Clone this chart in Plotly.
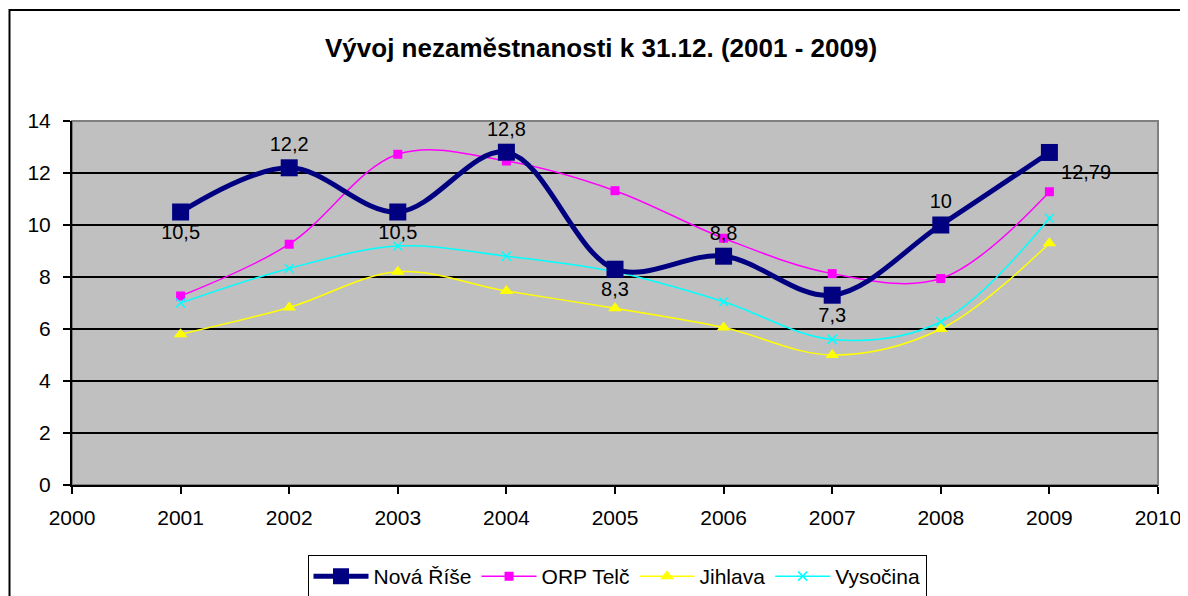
import plotly.graph_objects as go

years = [2001, 2002, 2003, 2004, 2005, 2006, 2007, 2008, 2009]
nova_rise = [10.5, 12.2, 10.5, 12.8, 8.3, 8.8, 7.3, 10, 12.79]
nova_rise_labels = ["10,5", "12,2", "10,5", "12,8", "8,3", "8,8", "7,3", "10", "12,79"]
orp_telc = [7.27, 9.26, 12.72, 12.46, 11.32, 9.49, 8.13, 7.94, 11.28]
jihlava = [5.8, 6.83, 8.2, 7.46, 6.8, 6.06, 5.0, 6.0, 9.3]
vysocina = [7.0, 8.33, 9.19, 8.8, 8.2, 7.05, 5.6, 6.28, 10.26]

FONT = "Liberation Sans, Arial, sans-serif"

# page body has an 8px margin, so the figure starts at (8, 8) on screen
OFF = 8
W, H = 1188, 596
# plot area (figure pixels)
L, R, T, B = 72 - OFF, 1158 - OFF, 121 - OFF, 485 - OFF


def px_x(p):
    # screen pixel -> paper x
    return (p - OFF - L) / (R - L)


def px_y(p):
    # screen pixel -> paper y
    return (B - (p - OFF)) / (B - T)


fig = go.Figure()

fig.add_trace(go.Scatter(
    x=years, y=orp_telc, name="ORP Telč", mode="lines+markers",
    line=dict(color="#FF00FF", width=1.5, shape="spline"),
    marker=dict(symbol="square", size=9, color="#FF00FF"),
    legendrank=2,
))
fig.add_trace(go.Scatter(
    x=years, y=jihlava, name="Jihlava", mode="lines+markers",
    line=dict(color="#FFFF00", width=1.5, shape="spline"),
    marker=dict(symbol="triangle-up", size=12, color="#FFFF00"),
    legendrank=3,
))
fig.add_trace(go.Scatter(
    x=years, y=vysocina, name="Vysočina", mode="lines+markers",
    line=dict(color="#00FFFF", width=1.5, shape="spline"),
    marker=dict(symbol="x-thin", size=9, line=dict(color="#00FFFF", width=1.5)),
    legendrank=4,
))
fig.add_trace(go.Scatter(
    x=years, y=nova_rise, name="Nová Říše", mode="lines+markers+text",
    line=dict(color="#000080", width=5, shape="spline"),
    marker=dict(symbol="square", size=17, color="#000080"),
    text=nova_rise_labels,
    textposition=["bottom center", "top center", "bottom center", "top center", "bottom center",
                  "top center", "bottom center", "top center", "bottom right"],
    textfont=dict(family=FONT, size=20, color="black"),
    cliponaxis=False,
    legendrank=1,
))

fig.update_layout(
    width=W, height=H,
    margin=dict(l=L, r=W - R, t=T, b=H - B, autoexpand=False),
    paper_bgcolor="white",
    plot_bgcolor="#C0C0C0",
    font=dict(family=FONT, size=21, color="black"),
    showlegend=True,
    legend=dict(
        orientation="h", x=px_x(617), xanchor="center", y=px_y(555), yanchor="top",
        bordercolor="black", borderwidth=1, bgcolor="white",
        font=dict(family=FONT, size=21), itemwidth=55, traceorder="normal",
    ),
    xaxis=dict(
        range=[2000, 2010], dtick=1, tick0=2000, showgrid=False, zeroline=False,
        showline=True, linecolor="black", linewidth=2, automargin=False,
        ticks="outside", ticklen=7, tickcolor="black", tickwidth=1.5,
        tickfont=dict(size=21), ticklabelstandoff=6,
    ),
    yaxis=dict(
        range=[0, 14], dtick=2, showgrid=True, gridcolor="black", gridwidth=1.5,
        zeroline=False, showline=True, linecolor="black", linewidth=2, automargin=False,
        ticks="outside", ticklen=7, tickcolor="black", tickwidth=1.5,
        tickfont=dict(size=21), ticklabelstandoff=8,
    ),
    shapes=[
        # gray border of the plot area
        dict(type="rect", xref="paper", yref="paper", x0=0, x1=1, y0=0, y1=1,
             line=dict(color="#808080", width=2), layer="below"),
        # outer chart frame
        dict(type="rect", xref="paper", yref="paper",
             x0=px_x(9.5), x1=px_x(1200), y0=px_y(610), y1=px_y(10),
             line=dict(color="black", width=2)),
    ],
    annotations=[
        dict(text="<b>Vývoj nezaměstnanosti k 31.12. (2001 - 2009)</b>",
             xref="paper", yref="paper", x=px_x(601), y=px_y(48),
             xanchor="center", yanchor="middle", showarrow=False,
             font=dict(family=FONT, size=26, color="black")),
    ],
)

fig.write_html("out.html")
